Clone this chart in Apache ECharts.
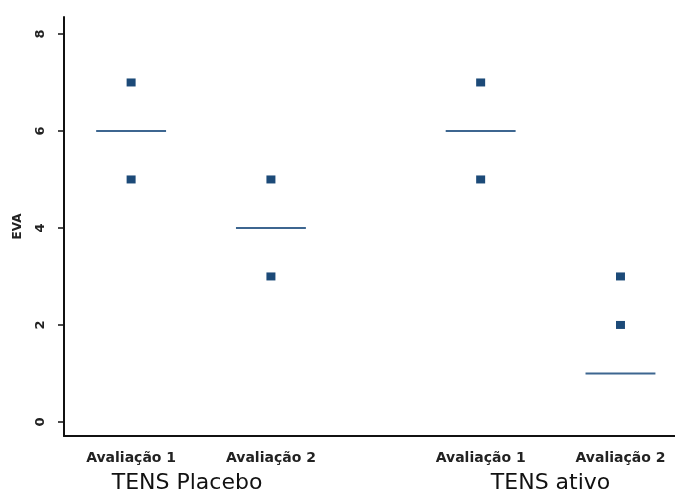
<!DOCTYPE html>
<html>
<head>
<meta charset="utf-8">
<script src="https://cdn.jsdelivr.net/npm/echarts@6/dist/echarts.min.js"></script>
<style>
  html, body { margin: 0; padding: 0; background: #fff; }
  #chart { width: 675px; height: 494px; }
</style>
</head>
<body>
<div id="chart"></div>
<script>
// Pain scores (EVA) per assessment, split by TENS group
const categories = ['Avaliação 1', 'Avaliação 2', 'Avaliação 1', 'Avaliação 2'];
const positions = [1, 2, 3.5, 4.5];
const scores = [[7, 5], [5, 3], [7, 5], [3, 2]];
const medians = [6, 4, 6, 1];
const groupLabels = ['TENS Placebo', 'TENS ativo'];
const groupPositions = [1.4, 4.0];
const yTicks = [0, 2, 4, 6, 8];

const pointData = [];
positions.forEach((p, i) => scores[i].forEach(v => pointData.push([p, v])));
const medianData = positions.map((p, i) => [p, medians[i]]);

const labelAt = (list, names) => v => {
  const idx = list.findIndex(p => Math.abs(p - v) < 1e-6);
  return idx >= 0 ? names[idx] : '';
};

const chart = echarts.init(document.getElementById('chart'));
chart.setOption({
  animation: false,
  grid: { left: 64, right: 0, top: 17, bottom: 58 },
  xAxis: [{
    type: 'value', min: 0.52, max: 4.89,
    axisLine: { show: true, onZero: false, lineStyle: { color: '#111', width: 2 } },
    axisTick: { show: false },
    splitLine: { show: false },
    axisLabel: {
      customValues: positions,
      formatter: labelAt(positions, categories),
      fontFamily: 'DejaVu Sans, sans-serif', fontWeight: 'bold',
      fontSize: 14, color: '#222', margin: 15
    }
  }, {
    type: 'value', min: 0.52, max: 4.89, position: 'bottom',
    axisLine: { show: false }, axisTick: { show: false }, splitLine: { show: false },
    axisLabel: {
      customValues: groupPositions,
      formatter: labelAt(groupPositions, groupLabels),
      fontFamily: 'DejaVu Sans, sans-serif',
      fontSize: 22, color: '#111', margin: 36
    }
  }],
  yAxis: {
    type: 'value', min: -0.29, max: 8.35,
    name: 'EVA', nameLocation: 'middle', nameGap: 40, nameRotate: 90,
    nameTextStyle: { fontFamily: 'DejaVu Sans, sans-serif', fontWeight: 'bold', fontSize: 12, color: '#222' },
    axisLine: { show: true, onZero: false, lineStyle: { color: '#111', width: 2 } },
    axisTick: { show: true, customValues: yTicks, length: 6, lineStyle: { color: '#111', width: 1.5 } },
    splitLine: { show: false },
    axisLabel: {
      customValues: yTicks, rotate: 90, margin: 17,
      fontFamily: 'DejaVu Sans, sans-serif', fontWeight: 'bold', fontSize: 13, color: '#222'
    }
  },
  series: [{
    type: 'scatter',
    data: pointData,
    symbol: 'rect', symbolSize: [9, 8],
    itemStyle: { color: '#1c4a78', opacity: 1 }
  }, {
    type: 'custom',
    data: medianData,
    renderItem: (params, api) => {
      const x = api.value(0), y = api.value(1);
      const a = api.coord([x - 0.25, y]);
      const b = api.coord([x + 0.25, y]);
      return {
        type: 'line',
        shape: { x1: a[0], y1: a[1], x2: b[0], y2: b[1] },
        style: { stroke: '#3d6690', lineWidth: 2 }
      };
    }
  }]
});
</script>
</body>
</html>
